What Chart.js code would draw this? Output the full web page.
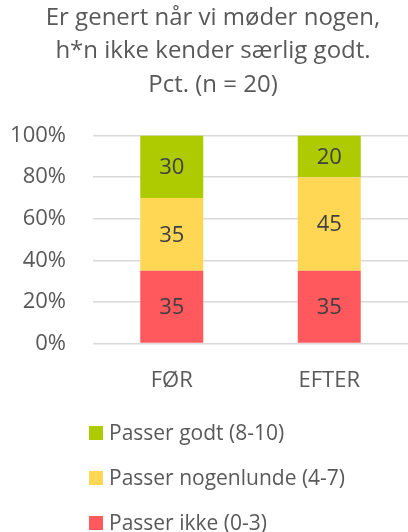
<!DOCTYPE html>
<html>
<head>
<meta charset="utf-8">
<script src="https://cdn.jsdelivr.net/npm/chart.js@4"></script>
<style>
  html, body { margin: 0; padding: 0; background: #fff; }
  #wrap { width: 408px; height: 532px; }
</style>
</head>
<body>
<div id="wrap"><canvas id="chart"></canvas></div>
<script>
// Data
const categories = ['FØR', 'EFTER'];
const seriesNames = ['Passer ikke (0-3)', 'Passer nogenlunde (4-7)', 'Passer godt (8-10)'];
const passerIkke = [35, 35];
const passerNogenlunde = [35, 45];
const passerGodt = [30, 20];
const yTicks = [0, 20, 40, 60, 80, 100];

const colors = ['#FF585D', '#FFD755', '#ADCB00'];
const textColor = '#595959';
const fontFamily = '"Open Sans", sans-serif';

// Tal midt i hver søjle
const valueLabels = {
    id: 'valueLabels',
    afterDatasetsDraw(chart) {
        const ctx = chart.ctx;
        ctx.save();
        ctx.font = '22px ' + fontFamily;
        ctx.fillStyle = '#404040';
        ctx.textAlign = 'center';
        ctx.textBaseline = 'middle';
        chart.data.datasets.forEach((ds, i) => {
            const meta = chart.getDatasetMeta(i);
            meta.data.forEach((bar, j) => {
                const p = bar.getProps(['x', 'y', 'base'], true);
                ctx.fillText(ds.data[j], p.x, (p.y + p.base) / 2 + 1);
            });
        });
        ctx.restore();
    }
};

// Legende: en række pr. serie, venstrestillet under søjlerne (øverste serie først)
const stackedLegend = {
    id: 'stackedLegend',
    afterDraw(chart) {
        const ctx = chart.ctx;
        const sets = chart.data.datasets;
        ctx.save();
        ctx.font = '21px ' + fontFamily;
        ctx.textAlign = 'left';
        ctx.textBaseline = 'middle';
        sets.forEach((ds, i) => {
            const y = chart.height - 9 - i * 45;
            ctx.fillStyle = ds.backgroundColor;
            ctx.fillRect(89, y - 7, 14, 14);
            ctx.fillStyle = textColor;
            ctx.fillText(ds.label, 109, y + 1);
        });
        ctx.restore();
    }
};

// Titlen står lidt til højre for midten i originalen
const titleShift = {
    id: 'titleShift',
    afterLayout(chart) {
        chart.titleBlock.left += 9;
        chart.titleBlock.right += 9;
    }
};

const ctx = document.getElementById('chart').getContext('2d');
const chart = new Chart(ctx, {
    type: 'bar',
    data: {
        labels: categories,
        datasets: [
            { label: seriesNames[0], data: passerIkke, backgroundColor: colors[0] },
            { label: seriesNames[1], data: passerNogenlunde, backgroundColor: colors[1] },
            { label: seriesNames[2], data: passerGodt, backgroundColor: colors[2] }
        ]
    },
    options: {
        responsive: true,
        maintainAspectRatio: false,
        animation: false,
        layout: { padding: { left: 0, right: 0, top: 0, bottom: 114 } },
        datasets: {
            bar: { barPercentage: 0.8, categoryPercentage: 0.5 }
        },
        scales: {
            x: {
                stacked: true,
                grid: { display: false, drawTicks: false },
                border: { display: false },
                ticks: { color: textColor, font: { family: fontFamily, size: 22 }, padding: 24 }
            },
            y: {
                stacked: true,
                min: 0,
                max: 100,
                afterBuildTicks: (axis) => { axis.ticks = yTicks.map(v => ({ value: v })); },
                afterFit: (axis) => { axis.width = 93; },
                grid: { color: '#D9D9D9', lineWidth: 1.5, drawTicks: false },
                border: { display: false },
                ticks: {
                    color: textColor,
                    font: { family: fontFamily, size: 22 },
                    padding: 27,
                    callback: (v) => v + '%'
                }
            }
        },
        plugins: {
            title: {
                display: true,
                text: ['Er genert når vi møder nogen,', 'h*n ikke kender særlig godt.', 'Pct. (n = 20)'],
                color: textColor,
                font: { family: fontFamily, size: 24, weight: 'normal', lineHeight: 1.396 },
                padding: { top: 1, bottom: 34 }
            },
            legend: { display: false },
            tooltip: { enabled: false }
        }
    },
    plugins: [valueLabels, stackedLegend, titleShift]
});
</script>
</body>
</html>
